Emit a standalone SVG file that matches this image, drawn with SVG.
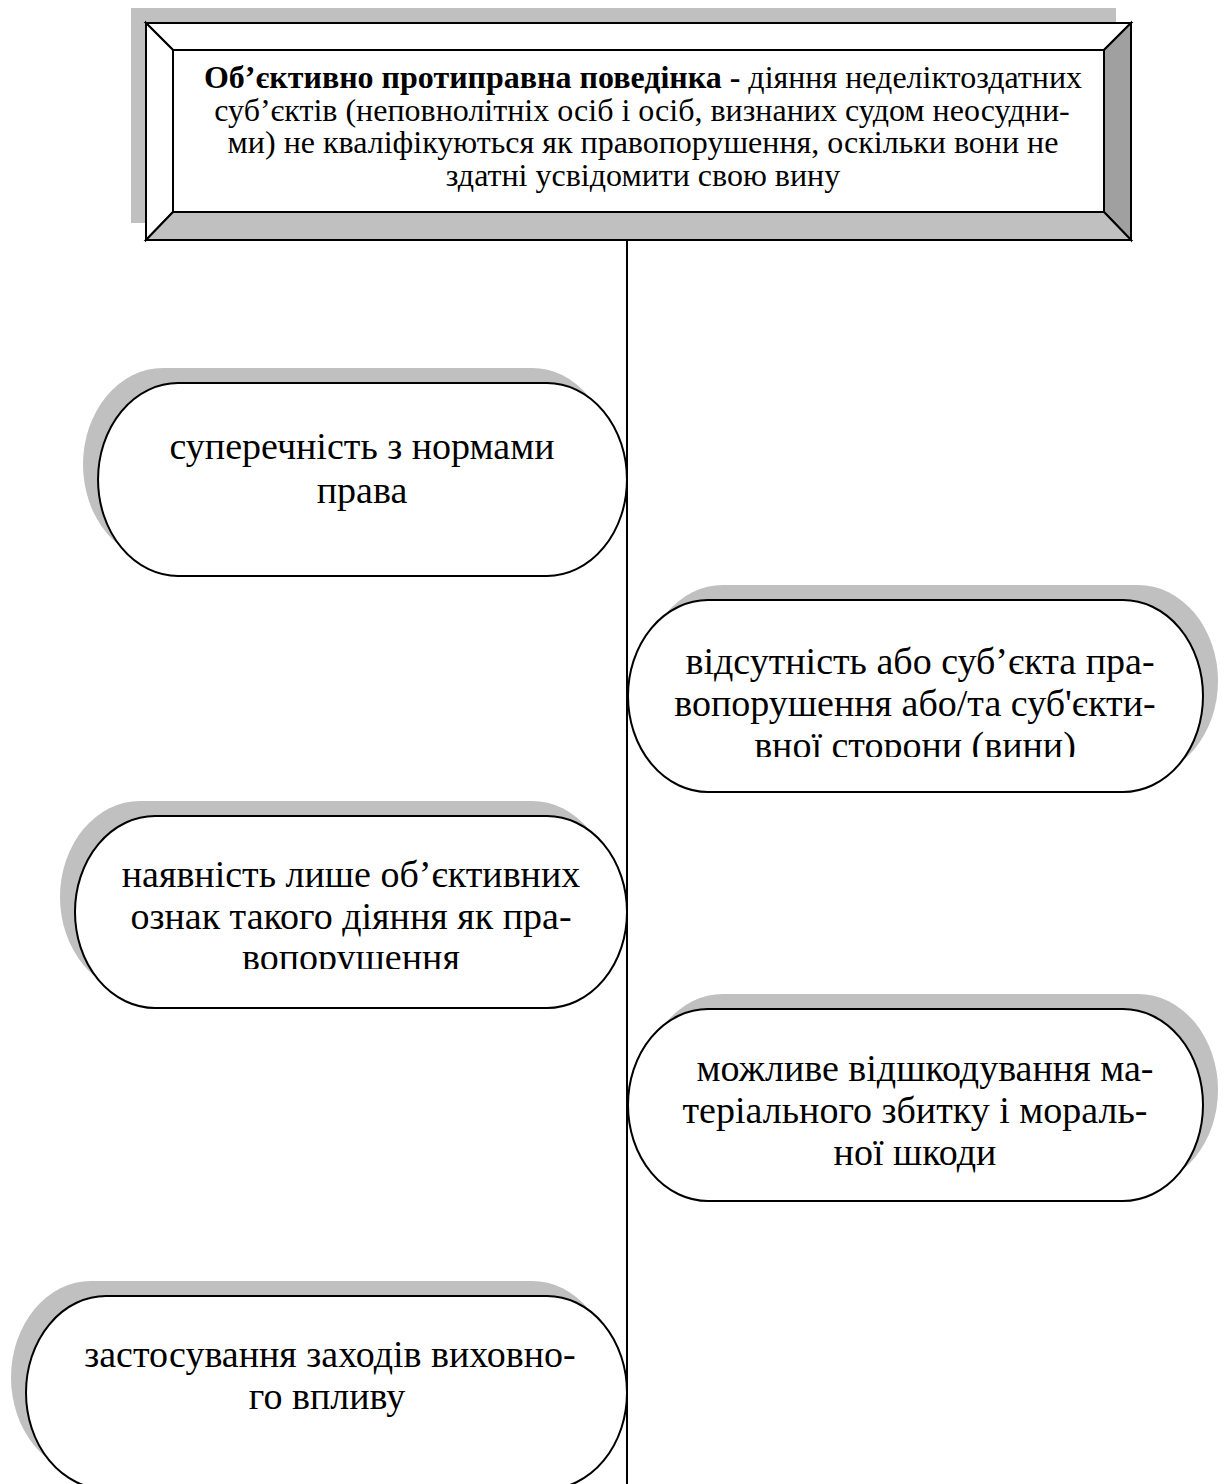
<svg xmlns="http://www.w3.org/2000/svg" width="1225" height="1484" viewBox="0 0 1225 1484">
<style>
.sh{fill:#c0c0c0;stroke:none}
.cap{fill:#fff;stroke:#000;stroke-width:2}
.t{font-family:"Liberation Serif","Times New Roman",serif;font-size:38px;fill:#000;text-anchor:middle}
.tt{font-family:"Liberation Serif","Times New Roman",serif;font-size:32px;fill:#000;text-anchor:middle}
.ln{stroke:#000;stroke-width:2;fill:none}
</style>
<defs>
<clipPath id="c2"><rect x="600" y="590" width="625" height="167"/></clipPath>
<clipPath id="c3"><rect x="60" y="800" width="580" height="169"/></clipPath>
</defs>
<rect width="1225" height="1484" fill="#fff"/>
<g id="connectors">
<line class="ln" x1="627" y1="240" x2="627" y2="1484"/>
</g>
<g id="top">
<rect class="sh" x="131" y="8" width="985" height="215"/>
<polygon points="146,23 1131,23 1104,50 173,50" fill="#fff" stroke="#000" stroke-width="2"/>
<polygon points="146,23 173,50 173,212 146,240" fill="#fff" stroke="#000" stroke-width="2"/>
<polygon points="1131,23 1131,240 1104,212 1104,50" fill="#a0a0a0" stroke="#000" stroke-width="2"/>
<polygon points="146,240 173,212 1104,212 1131,240" fill="#c0c0c0" stroke="#000" stroke-width="2"/>
<rect x="173" y="50" width="931" height="162" fill="#fff" stroke="#000" stroke-width="2"/>
<text class="tt" x="643" y="88"><tspan font-weight="bold">Об’єктивно протиправна поведінка -</tspan> діяння неделіктоздатних</text>
<text class="tt" x="642" y="120.5">суб’єктів (неповнолітніх осіб і осіб, визнаних судом неосудни-</text>
<text class="tt" x="643" y="153">ми) не кваліфікуються як правопорушення, оскільки вони не</text>
<text class="tt" x="643" y="186">здатні усвідомити свою вину</text>
</g>
<g id="n1">
<path class="sh" d="M163,368 H532 A80,96.5 0 0 1 532,561 H163 A80,96.5 0 0 1 163,368 Z"/>
<path class="cap" d="M178,383 H547 A80,96.5 0 0 1 547,576 H178 A80,96.5 0 0 1 178,383 Z"/>
<text class="t" x="362" y="459">суперечність з нормами</text>
<text class="t" x="362" y="503">права</text>
</g>
<g id="n2">
<path class="sh" d="M723,585 H1138 A80,96 0 0 1 1138,777 H723 A80,96 0 0 1 723,585 Z"/>
<path class="cap" d="M708,600 H1123 A80,96 0 0 1 1123,792 H708 A80,96 0 0 1 708,600 Z"/>
<g clip-path="url(#c2)">
<text class="t" x="920" y="674">відсутність або суб’єкта пра-</text>
<text class="t" x="915" y="716">вопорушення або/та суб'єкти-</text>
<text class="t" x="915" y="758">вної сторони (вини)</text>
</g>
</g>
<g id="n3">
<path class="sh" d="M140,801 H532 A80,96 0 0 1 532,993 H140 A80,96 0 0 1 140,801 Z"/>
<path class="cap" d="M155,816 H547 A80,96 0 0 1 547,1008 H155 A80,96 0 0 1 155,816 Z"/>
<g clip-path="url(#c3)">
<text class="t" x="351" y="887">наявність лише об’єктивних</text>
<text class="t" x="351" y="929">ознак такого діяння як пра-</text>
<text class="t" x="351" y="970">вопорушення</text>
</g>
</g>
<g id="n4">
<path class="sh" d="M723,994 H1138 A80,96 0 0 1 1138,1186 H723 A80,96 0 0 1 723,994 Z"/>
<path class="cap" d="M708,1009 H1123 A80,96 0 0 1 1123,1201 H708 A80,96 0 0 1 708,1009 Z"/>
<text class="t" x="925" y="1081">можливе відшкодування ма-</text>
<text class="t" x="915" y="1123">теріального збитку і мораль-</text>
<text class="t" x="915" y="1165">ної шкоди</text>
</g>
<g id="n5">
<path class="sh" d="M91,1281 H532 A80,96.5 0 0 1 532,1474 H91 A80,96.5 0 0 1 91,1281 Z"/>
<path class="cap" d="M106,1296 H547 A80,96.5 0 0 1 547,1489 H106 A80,96.5 0 0 1 106,1296 Z"/>
<text class="t" x="330" y="1367">застосування заходів виховно-</text>
<text class="t" x="327" y="1409">го впливу</text>
</g>
</svg>
